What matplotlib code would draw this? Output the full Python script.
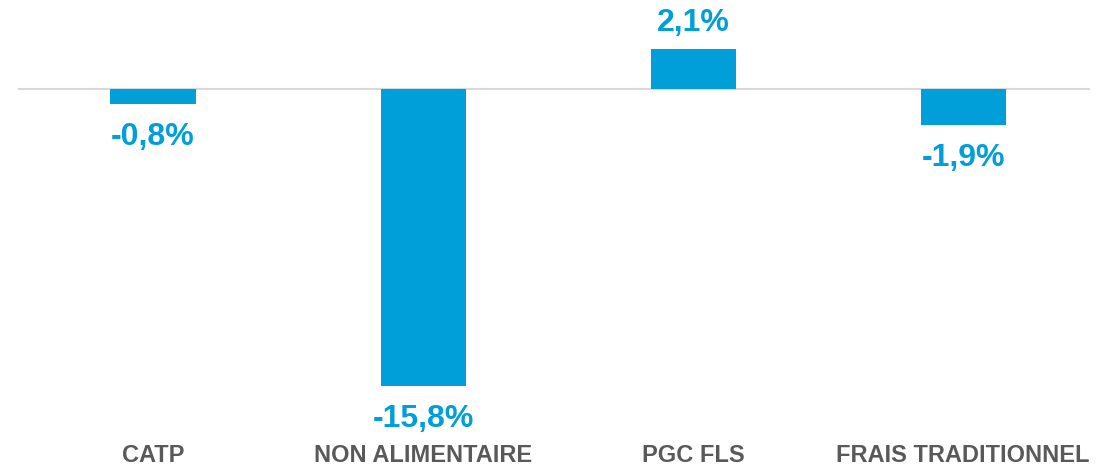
import matplotlib.pyplot as plt

# Données
categories = ['CATP', 'NON ALIMENTAIRE', 'PGC FLS', 'FRAIS TRADITIONNEL']
valeurs = [-0.8, -15.8, 2.1, -1.9]
etiquettes = ['-0,8%', '-15,8%', '2,1%', '-1,9%']

bleu = '#009FDA'
gris = '#595959'

plt.rcParams['font.family'] = ['Liberation Sans', 'DejaVu Sans']

fig = plt.figure(figsize=(11.02, 4.68), dpi=100)
ax = fig.add_axes([18 / 1102, 28 / 468, 1072 / 1102, 440 / 468])

x = range(len(categories))
ax.bar(x, valeurs, width=0.315, color=bleu, zorder=2)
ax.axhline(0, color='#D9D9D9', linewidth=1.5, zorder=1)

for xi, v, lab in zip(x, valeurs, etiquettes):
    if v >= 0:
        ax.annotate(lab, (xi, v), xytext=(0, 13), textcoords='offset points',
                    ha='center', va='baseline', fontsize=23, fontweight='bold', color=bleu)
    else:
        ax.annotate(lab, (xi, v), xytext=(0, -13), textcoords='offset points',
                    ha='center', va='top', fontsize=23, fontweight='bold', color=bleu)

ax.set_xlim(-0.5, 3.47)
ax.set_ylim(-18.67, 4.73)
ax.set_xticks(list(x))
ax.set_xticklabels(categories, fontsize=17, fontweight='bold', color=gris)
ax.tick_params(axis='x', length=0, pad=3)
ax.set_yticks([])
for s in ax.spines.values():
    s.set_visible(False)

fig.savefig('out.png', dpi=100)
